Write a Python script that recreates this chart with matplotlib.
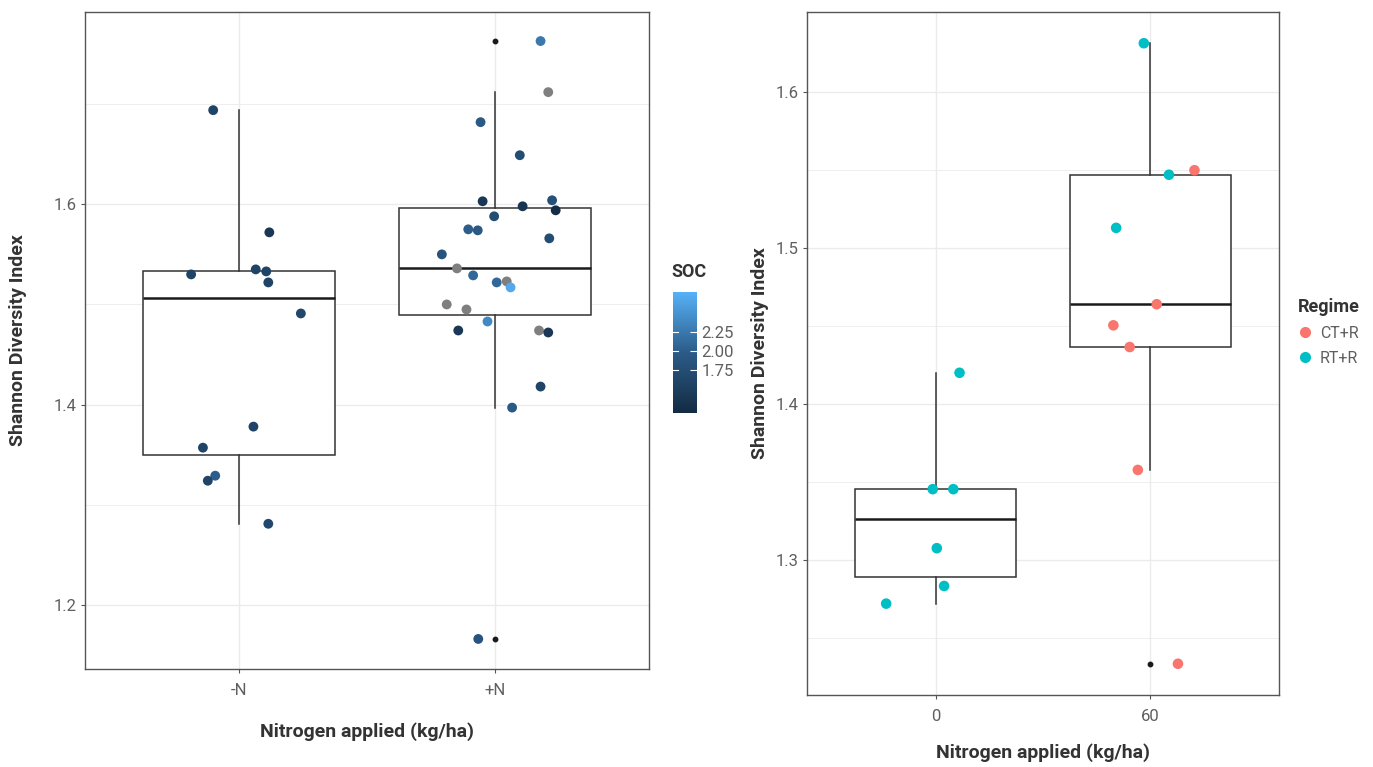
import numpy as np
import matplotlib
matplotlib.use("Agg")
import matplotlib.pyplot as plt
from matplotlib.colors import LinearSegmentedColormap
from matplotlib.lines import Line2D

plt.rcParams["font.family"] = ["Roboto", "DejaVu Sans"]

# ---- left panel: Shannon index by nitrogen treatment, coloured by SOC ----
left_cats = ["-N", "+N"]
minus_n_shannon = [1.694, 1.572, 1.535, 1.533, 1.530, 1.522, 1.491,
                   1.378, 1.357, 1.329, 1.324, 1.281]
minus_n_jitter = [-0.100, 0.119, 0.066, 0.107, -0.186, 0.115, 0.242,
                  0.057, -0.140, -0.092, -0.121, 0.115]
minus_n_soc = [1.60, 1.40, 1.60, 1.60, 1.60, 1.60, 1.65,
               1.60, 1.60, 2.00, 1.60, 1.65]

plus_n_shannon = [1.763, 1.712, 1.682, 1.649, 1.603, 1.604, 1.598, 1.594,
                  1.588, 1.575, 1.574, 1.566, 1.550, 1.536, 1.529, 1.522,
                  1.523, 1.517, 1.500, 1.495, 1.483, 1.474, 1.474, 1.472,
                  1.418, 1.397, 1.166]
plus_n_jitter = [0.177, 0.207, -0.057, 0.096, -0.049, 0.222, 0.107, 0.236,
                 -0.004, -0.105, -0.068, 0.211, -0.208, -0.149, -0.086, 0.006,
                 0.045, 0.060, -0.189, -0.112, -0.030, -0.144, 0.171, 0.207,
                 0.177, 0.066, -0.066]
plus_n_soc = [2.25, np.nan, 1.95, 1.75, 1.40, 1.80, 1.35, 1.22,
              1.75, 2.00, 1.95, 1.75, 1.85, np.nan, 2.10, 2.10,
              np.nan, 2.70, np.nan, np.nan, 2.40, 1.40, np.nan, 1.40,
              1.60, 1.95, 1.85]
soc_limits = (1.18, 2.78)
soc_ticks = [1.75, 2.00, 2.25]

# ---- right panel: Shannon index by N rate, coloured by regime ----
right_cats = ["0", "60"]
n0_shannon = [1.420, 1.3455, 1.3455, 1.3077, 1.2835, 1.2722]
n0_jitter = [0.111, -0.014, 0.082, 0.005, 0.039, -0.231]
n0_regime = ["RT+R"] * 6
n60_shannon = [1.631, 1.5468, 1.5497, 1.5128, 1.4639, 1.4504, 1.4365, 1.3578, 1.2337]
n60_jitter = [-0.030, 0.087, 0.206, -0.159, 0.030, -0.172, -0.096, -0.058, 0.129]
n60_regime = ["RT+R", "RT+R", "CT+R", "RT+R", "CT+R", "CT+R", "CT+R", "CT+R", "CT+R"]
regime_colors = {"CT+R": "#F8766D", "RT+R": "#00BFC4"}

W, H = 1373, 767
fig = plt.figure(figsize=(W / 100, H / 100), dpi=100)

GRID = "#EBEBEB"
TICK_C = "#5f5f5f"
TITLE_C = "#333333"
BOX_C = "#333333"


def style_axes(ax, cats, ylab_x, xlab_y):
    ax.set_xlim(0.4, 2.6)
    ax.set_xticks([1, 2])
    ax.set_xticklabels(cats)
    ax.grid(True, which="major", color=GRID, lw=1.0)
    ax.grid(True, which="minor", axis="y", color=GRID, lw=0.6)
    ax.set_axisbelow(True)
    for sp in ax.spines.values():
        sp.set_color("#555555")
        sp.set_linewidth(1.0)
    ax.tick_params(which="major", length=3, color="#555555", labelsize=12,
                   labelcolor=TICK_C)
    ax.tick_params(axis="x", which="major", pad=7)
    ax.tick_params(axis="y", which="major", pad=3)
    ax.tick_params(which="minor", length=0)
    ax.set_xlabel("Nitrogen applied (kg/ha)", fontsize=14, fontweight="bold",
                  color=TITLE_C)
    ax.set_ylabel("Shannon Diversity Index", fontsize=14, fontweight="bold",
                  color=TITLE_C)
    ax.yaxis.set_label_coords(ylab_x, 0.5)
    ax.xaxis.set_label_coords(0.5, xlab_y)


def draw_box(ax, groups):
    ax.boxplot(groups, positions=[1, 2], widths=0.75, whis=1.5,
               patch_artist=True, manage_ticks=False, zorder=2,
               boxprops=dict(facecolor="white", edgecolor=BOX_C, lw=1.1),
               medianprops=dict(color="#1a1a1a", lw=1.8),
               whiskerprops=dict(color=BOX_C, lw=1.1),
               capprops=dict(lw=0),
               flierprops=dict(marker="o", markersize=3.2, markerfacecolor="#1a1a1a",
                               markeredgecolor="#1a1a1a"))


# left panel
ax1 = fig.add_axes([85 / W, 1 - 669 / H, 564 / W, 657 / H])
draw_box(ax1, [minus_n_shannon, plus_n_shannon])
cmap = LinearSegmentedColormap.from_list("soc", ["#132B43", "#2B5B88", "#56B1F7"])
cmap.set_bad("#7F7F7F")
x_left = np.concatenate([1 + np.array(minus_n_jitter), 2 + np.array(plus_n_jitter)])
y_left = np.concatenate([minus_n_shannon, plus_n_shannon])
c_left = np.ma.masked_invalid(np.concatenate([minus_n_soc, plus_n_soc]))
sc = ax1.scatter(x_left, y_left, c=c_left, cmap=cmap, vmin=soc_limits[0],
                 vmax=soc_limits[1], s=50, edgecolors="none", zorder=3,
                 plotnonfinite=True)
ax1.set_ylim(1.136, 1.792)
ax1.set_yticks([1.2, 1.4, 1.6])
ax1.set_yticks([1.3, 1.5, 1.7], minor=True)
style_axes(ax1, left_cats, -0.103, -0.081)

cax = fig.add_axes([673 / W, 1 - 413 / H, 24 / W, 121 / H])
cb = fig.colorbar(sc, cax=cax, ticks=soc_ticks)
cb.outline.set_visible(False)
cb.ax.set_yticklabels([f"{t:.2f}" for t in soc_ticks])
cb.ax.tick_params(length=5, width=0.8, color="white", direction="in",
                  labelsize=12, labelcolor=TICK_C, pad=3)
for t in soc_ticks:
    cb.ax.plot([0, 0.22], [t, t], color="white", lw=0.8, transform=cb.ax.get_yaxis_transform())
fig.text(671 / W, 1 - 272 / H, "SOC", fontsize=13, fontweight="bold",
         color=TITLE_C, va="center", ha="left")

# right panel
ax2 = fig.add_axes([807 / W, 1 - 695 / H, 472 / W, 683 / H])
draw_box(ax2, [n0_shannon, n60_shannon])
x_right = np.concatenate([1 + np.array(n0_jitter), 2 + np.array(n60_jitter)])
y_right = np.concatenate([n0_shannon, n60_shannon])
c_right = [regime_colors[r] for r in n0_regime + n60_regime]
ax2.scatter(x_right, y_right, c=c_right, s=58, edgecolors="none", zorder=3)
ax2.set_ylim(1.2137, 1.651)
ax2.set_yticks([1.3, 1.4, 1.5, 1.6])
ax2.set_yticks([1.25, 1.35, 1.45, 1.55], minor=True)
style_axes(ax2, right_cats, -0.080, -0.070)

handles = [Line2D([], [], marker="o", ls="", markersize=8, markeredgecolor="none",
                  markerfacecolor=regime_colors[k], label=k) for k in regime_colors]
leg = fig.legend(handles=handles, title="Regime", loc="upper left",
                 bbox_to_anchor=(1291 / W, 1 - 292 / H), frameon=False,
                 fontsize=11.5, title_fontsize=13, handlelength=1.0,
                 handletextpad=0.4, labelspacing=0.6, borderaxespad=0,
                 alignment="left")
leg.get_title().set_fontweight("bold")
leg.get_title().set_color(TITLE_C)
for t in leg.get_texts():
    t.set_color(TICK_C)

fig.savefig("out.png", dpi=100)
